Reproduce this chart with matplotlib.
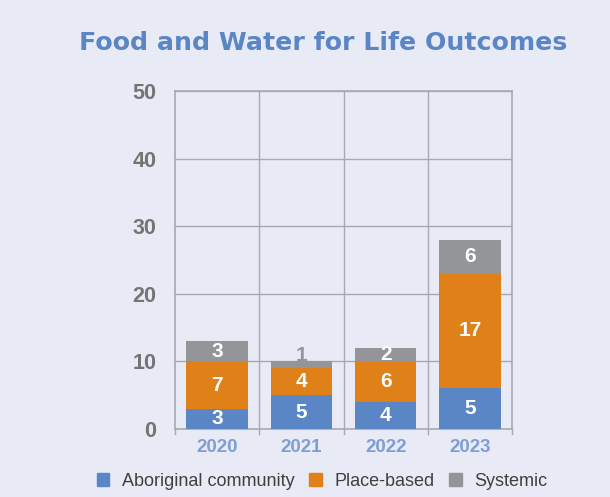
import matplotlib
matplotlib.use("Agg")
import matplotlib.pyplot as plt
import numpy as np
from matplotlib.patches import Patch

years = ["2020", "2021", "2022", "2023"]
aboriginal = [3, 5, 4, 6]
place_based = [7, 4, 6, 17]
systemic = [3, 1, 2, 5]
aboriginal_labels = ["3", "5", "4", "5"]
place_labels = ["7", "4", "6", "17"]
systemic_labels = ["3", "1", "2", "6"]
series_names = ["Aboriginal community", "Place-based", "Systemic"]
yticks = [0, 10, 20, 30, 40, 50]

BG = "#E8EAF6"
BLUE = "#5B86C5"
ORANGE = "#DF8019"
GRAY = "#949598"
GRID = "#A8A8B0"

fig = plt.figure(figsize=(6.1, 4.97), dpi=100)
fig.patch.set_facecolor(BG)
ax = fig.add_axes([175/610, 1-429/497, (512-175)/610, (429-91)/497])
ax.set_facecolor(BG)

x = np.arange(len(years))
w = 0.73
ax.bar(x, aboriginal, w, color=BLUE, zorder=3)
bot2 = np.array(aboriginal)
ax.bar(x, place_based, w, bottom=bot2, color=ORANGE, zorder=3)
bot3 = bot2 + np.array(place_based)
ax.bar(x, systemic, w, bottom=bot3, color=GRAY, zorder=3)

lab_font = dict(fontfamily="Liberation Sans", fontweight="bold", fontsize=15,
                ha="center", va="center", zorder=4)
for i in range(len(years)):
    ax.text(x[i], aboriginal[i] / 2, aboriginal_labels[i], color="white", **lab_font)
    ax.text(x[i], bot2[i] + place_based[i] / 2, place_labels[i], color="white", **lab_font)
    if systemic[i] >= 2:
        ax.text(x[i], bot3[i] + systemic[i] / 2, systemic_labels[i], color="white", **lab_font)
    else:
        ax.text(x[i], bot3[i] + 1.9, systemic_labels[i], color=GRAY, **lab_font)

ax.set_xlim(-0.5, len(years) - 0.5)
ax.set_ylim(0, 50)
ax.set_yticks(yticks)
ax.set_yticklabels([str(t) for t in yticks], fontfamily="Liberation Sans",
                   fontweight="bold", fontsize=15.5, color="#747474")
ax.set_xticks(x)
ax.set_xticklabels(years, fontfamily="Liberation Sans", fontweight="bold",
                   fontsize=13.5, color="#7F9FD3")
ax.tick_params(axis="y", length=0, pad=13.5)
ax.tick_params(axis="x", length=0, pad=7.5)

for t in yticks[1:]:
    ax.axhline(t, color=GRID, lw=1.0, zorder=1)
for xb in np.arange(0.5, len(years) - 0.5, 1):
    ax.axvline(xb, color=GRID, lw=1.0, zorder=1)
    ax.plot([xb, xb], [0, -0.8], color=GRID, lw=1.0, clip_on=False)
ax.plot([-0.5, -0.5], [0, -0.8], color=GRID, lw=1.0, clip_on=False)
ax.plot([3.5, 3.5], [0, -0.8], color=GRID, lw=1.0, clip_on=False)

for s in ["left", "right", "top", "bottom"]:
    ax.spines[s].set_color(GRID)
    ax.spines[s].set_linewidth(1.2)

fig.text(0.530, 1-43/497, "Food and Water for Life Outcomes", ha="center", va="center",
         fontfamily="DejaVu Sans", fontweight="bold", fontsize=18.2, color="#5B86C5")

handles = [Patch(color=BLUE), Patch(color=ORANGE), Patch(color=GRAY)]
fig.legend(handles, series_names, loc="center", bbox_to_anchor=(0.528, 1-481/497),
           ncol=3, frameon=False, handlelength=0.7, handleheight=0.7,
           handletextpad=0.7, columnspacing=0.8,
           prop=dict(family="Liberation Sans", size=13))
for t in fig.legends[0].get_texts():
    t.set_color("#404040")

fig.savefig("out.png", dpi=100, facecolor=BG)
